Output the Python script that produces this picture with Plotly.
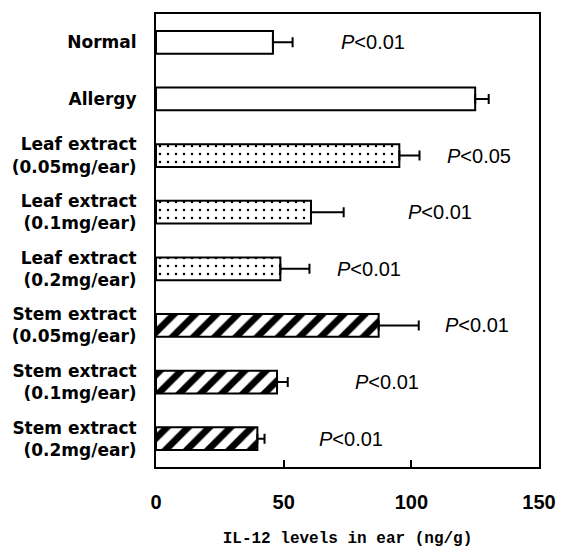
import plotly.graph_objects as go

categories = ["Normal", "Allergy", "Leaf extract<br>(0.05mg/ear)", "Leaf extract<br>(0.1mg/ear)",
              "Leaf extract<br>(0.2mg/ear)", "Stem extract<br>(0.05mg/ear)", "Stem extract<br>(0.1mg/ear)",
              "Stem extract<br>(0.2mg/ear)"]
values = [45.8, 125, 95.3, 60.7, 48.7, 87.2, 47.4, 39.7]
errors = [7.7, 5.3, 7.9, 12.8, 11.4, 15.7, 4.2, 2.8]
patterns = ["", "", ".", ".", ".", "/", "/", "/"]
p_labels = ["<i>P</i><0.01", "", "<i>P</i><0.05", "<i>P</i><0.01", "<i>P</i><0.01",
            "<i>P</i><0.01", "<i>P</i><0.01", "<i>P</i><0.01"]
p_x = [71.5, None, 113.2, 97.9, 70.1, 112.5, 77.1, 63.2]
x_ticks = [0, 50, 100, 150]

fig = go.Figure()
for i, cat in enumerate(categories):
    pat = patterns[i]
    if pat == ".":
        pattern = dict(shape=".", fgcolor="black", bgcolor="white", fgopacity=1, size=8, solidity=0.08)
    elif pat == "/":
        pattern = dict(shape="/", fgcolor="black", bgcolor="white", fgopacity=1, size=15, solidity=0.45)
    else:
        pattern = dict(shape="")
    fig.add_trace(go.Bar(
        y=[cat], x=[values[i]], orientation="h", width=0.40,
        marker=dict(color="white", line=dict(color="black", width=2), pattern=pattern),
        error_x=dict(type="data", array=[errors[i]], arrayminus=[0], symmetric=False,
                     color="black", thickness=2, width=5),
        showlegend=False,
    ))
    if p_labels[i]:
        fig.add_annotation(x=p_x[i], y=cat, text=p_labels[i], showarrow=False, xanchor="left",
                           font=dict(family="Liberation Sans", size=20, color="black"))

fig.update_layout(
    width=568, height=556, margin=dict(l=155, r=21, t=14, b=74),
    plot_bgcolor="white", paper_bgcolor="white",
    font=dict(family="DejaVu Sans", color="black"),
)
fig.update_xaxes(range=[0, 150], tickvals=x_ticks, ticktext=[f"<b>{t}</b>" for t in x_ticks],
                 ticks="inside", ticklen=7, tickwidth=2, tickcolor="black",
                 showline=True, linecolor="black", linewidth=2, mirror=True,
                 showgrid=False, zeroline=False, ticklabelstandoff=16,
                 tickfont=dict(family="Liberation Sans", size=20),
                 title=dict(text="<b>IL-12 levels in ear (ng/g)</b>", standoff=20,
                            font=dict(family="Liberation Mono", size=16)))
fig.update_yaxes(categoryorder="array", categoryarray=categories,
                 showline=True, linecolor="black", linewidth=2, mirror=True,
                 showgrid=False, ticks="", ticklabelstandoff=14,
                 ticktext=[f"<b>{c}</b>".replace("<br>", "</b><br><b>") for c in categories],
                 tickvals=categories,
                 tickfont=dict(family="DejaVu Sans", size=17))
fig.update_yaxes(autorange=False, range=[7.5, -0.5])

fig.write_html("out.html")
